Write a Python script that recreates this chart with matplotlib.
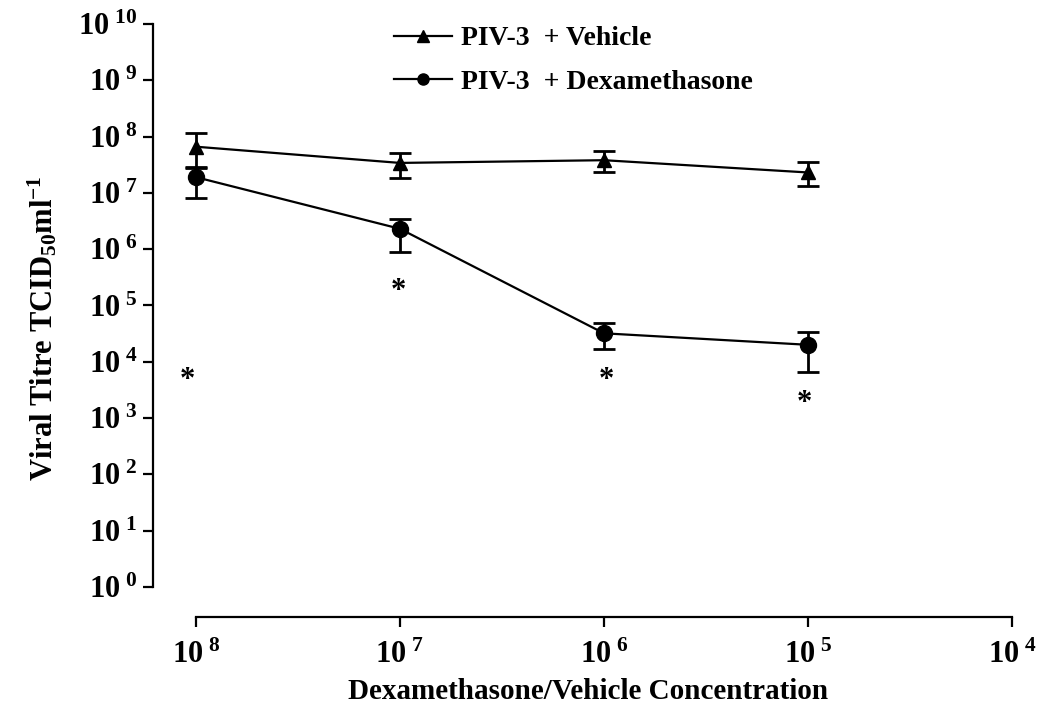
import numpy as np
import matplotlib
matplotlib.use('Agg')
import matplotlib.pyplot as plt
from matplotlib.ticker import FixedLocator, FixedFormatter, NullLocator

# concentration categories (left to right)
conc_labels = [r'$\mathregular{10^{\ 8}}$', r'$\mathregular{10^{\ 7}}$', r'$\mathregular{10^{\ 6}}$',
               r'$\mathregular{10^{\ 5}}$', r'$\mathregular{10^{\ 4}}$']
conc_pos = [0, 1, 2, 3, 4]
data_pos = [0, 1, 2, 3]

# PIV-3 + Vehicle (TCID50/ml)
veh_mean = [6.6e7, 3.4e7, 3.8e7, 2.3e7]
veh_upper = [1.15e8, 5.1e7, 5.5e7, 3.5e7]
veh_lower = [2.9e7, 1.8e7, 2.3e7, 1.3e7]

# PIV-3 + Dexamethasone (TCID50/ml)
dex_mean = [1.9e7, 2.3e6, 3.2e4, 2.0e4]
dex_upper = [2.8e7, 3.5e6, 4.9e4, 3.4e4]
dex_lower = [8.1e6, 8.9e5, 1.7e4, 6.6e3]

# significance stars
star_x = [-0.04, 0.99, 2.01, 2.98]
star_y = [4.6e3, 1.8e5, 4.6e3, 1.8e3]

y_exps = list(range(0, 11))

plt.rcParams['font.family'] = 'Liberation Serif'
plt.rcParams['font.weight'] = 'bold'
plt.rcParams['mathtext.fontset'] = 'custom'
plt.rcParams['mathtext.rm'] = 'Liberation Serif:bold'
plt.rcParams['mathtext.it'] = 'Liberation Serif:bold'
plt.rcParams['mathtext.bf'] = 'Liberation Serif:bold'

fig = plt.figure(figsize=(10.41, 7.06), dpi=100)
ax = fig.add_axes([0.147, 0.1686, 0.835, 0.7975])

lw = 1.6
ax.plot(data_pos, veh_mean, color='black', lw=lw, marker='^', ms=10, label='PIV-3  + Vehicle', zorder=3)
ax.plot(data_pos, dex_mean, color='black', lw=lw, marker='o', ms=11.5, label='PIV-3  + Dexamethasone', zorder=3)

veh_err = [np.array(veh_mean) - np.array(veh_lower), np.array(veh_upper) - np.array(veh_mean)]
dex_err = [np.array(dex_mean) - np.array(dex_lower), np.array(dex_upper) - np.array(dex_mean)]
ax.errorbar(data_pos, veh_mean, yerr=veh_err, fmt='none', ecolor='black', elinewidth=2, capsize=8, capthick=2)
ax.errorbar(data_pos, dex_mean, yerr=dex_err, fmt='none', ecolor='black', elinewidth=2, capsize=8, capthick=2)

for sx, sy in zip(star_x, star_y):
    ax.text(sx, sy, '*', fontsize=22, fontweight='bold', ha='center', va='center')

ax.set_yscale('log')
ax.set_ylim(1, 1e10)
ax.set_xlim(-0.21, 4.05)

ax.yaxis.set_major_locator(FixedLocator([10.0 ** e for e in y_exps]))
ax.yaxis.set_major_formatter(FixedFormatter([r'$\mathregular{10^{\ %d}}$' % e for e in y_exps]))
ax.yaxis.set_minor_locator(NullLocator())
ax.xaxis.set_major_locator(FixedLocator(conc_pos))
ax.xaxis.set_major_formatter(FixedFormatter(conc_labels))

for s in ['top', 'right']:
    ax.spines[s].set_visible(False)
ax.spines['left'].set_linewidth(1.6)
ax.spines['bottom'].set_linewidth(1.6)
ax.spines['bottom'].set_position(('outward', 21.6))
ax.spines['bottom'].set_bounds(0, 4)
ax.spines['left'].set_bounds(1, 1e10)

ax.tick_params(axis='both', direction='out', length=7, width=1.6, labelsize=22)
ax.tick_params(axis='y', pad=4)
ax.tick_params(axis='x', pad=10)

ax.set_xlabel('Dexamethasone/Vehicle Concentration', fontsize=21, fontweight='bold', labelpad=6)
ax.set_ylabel(r'Viral Titre TCID$_{50}$ml$^{-1}$', fontsize=22, fontweight='bold')
ax.yaxis.set_label_coords(-0.108, 0.46)

leg = ax.legend(loc='upper left', bbox_to_anchor=(380 / 1041, 1 - 12 / 706),
                bbox_transform=fig.transFigure, frameon=False, fontsize=20,
                handlelength=2.1, handletextpad=0.3, labelspacing=0.65, borderpad=0)
for h in leg.legend_handles:
    h.set_markersize(8)

fig.savefig('out.png', dpi=100)
